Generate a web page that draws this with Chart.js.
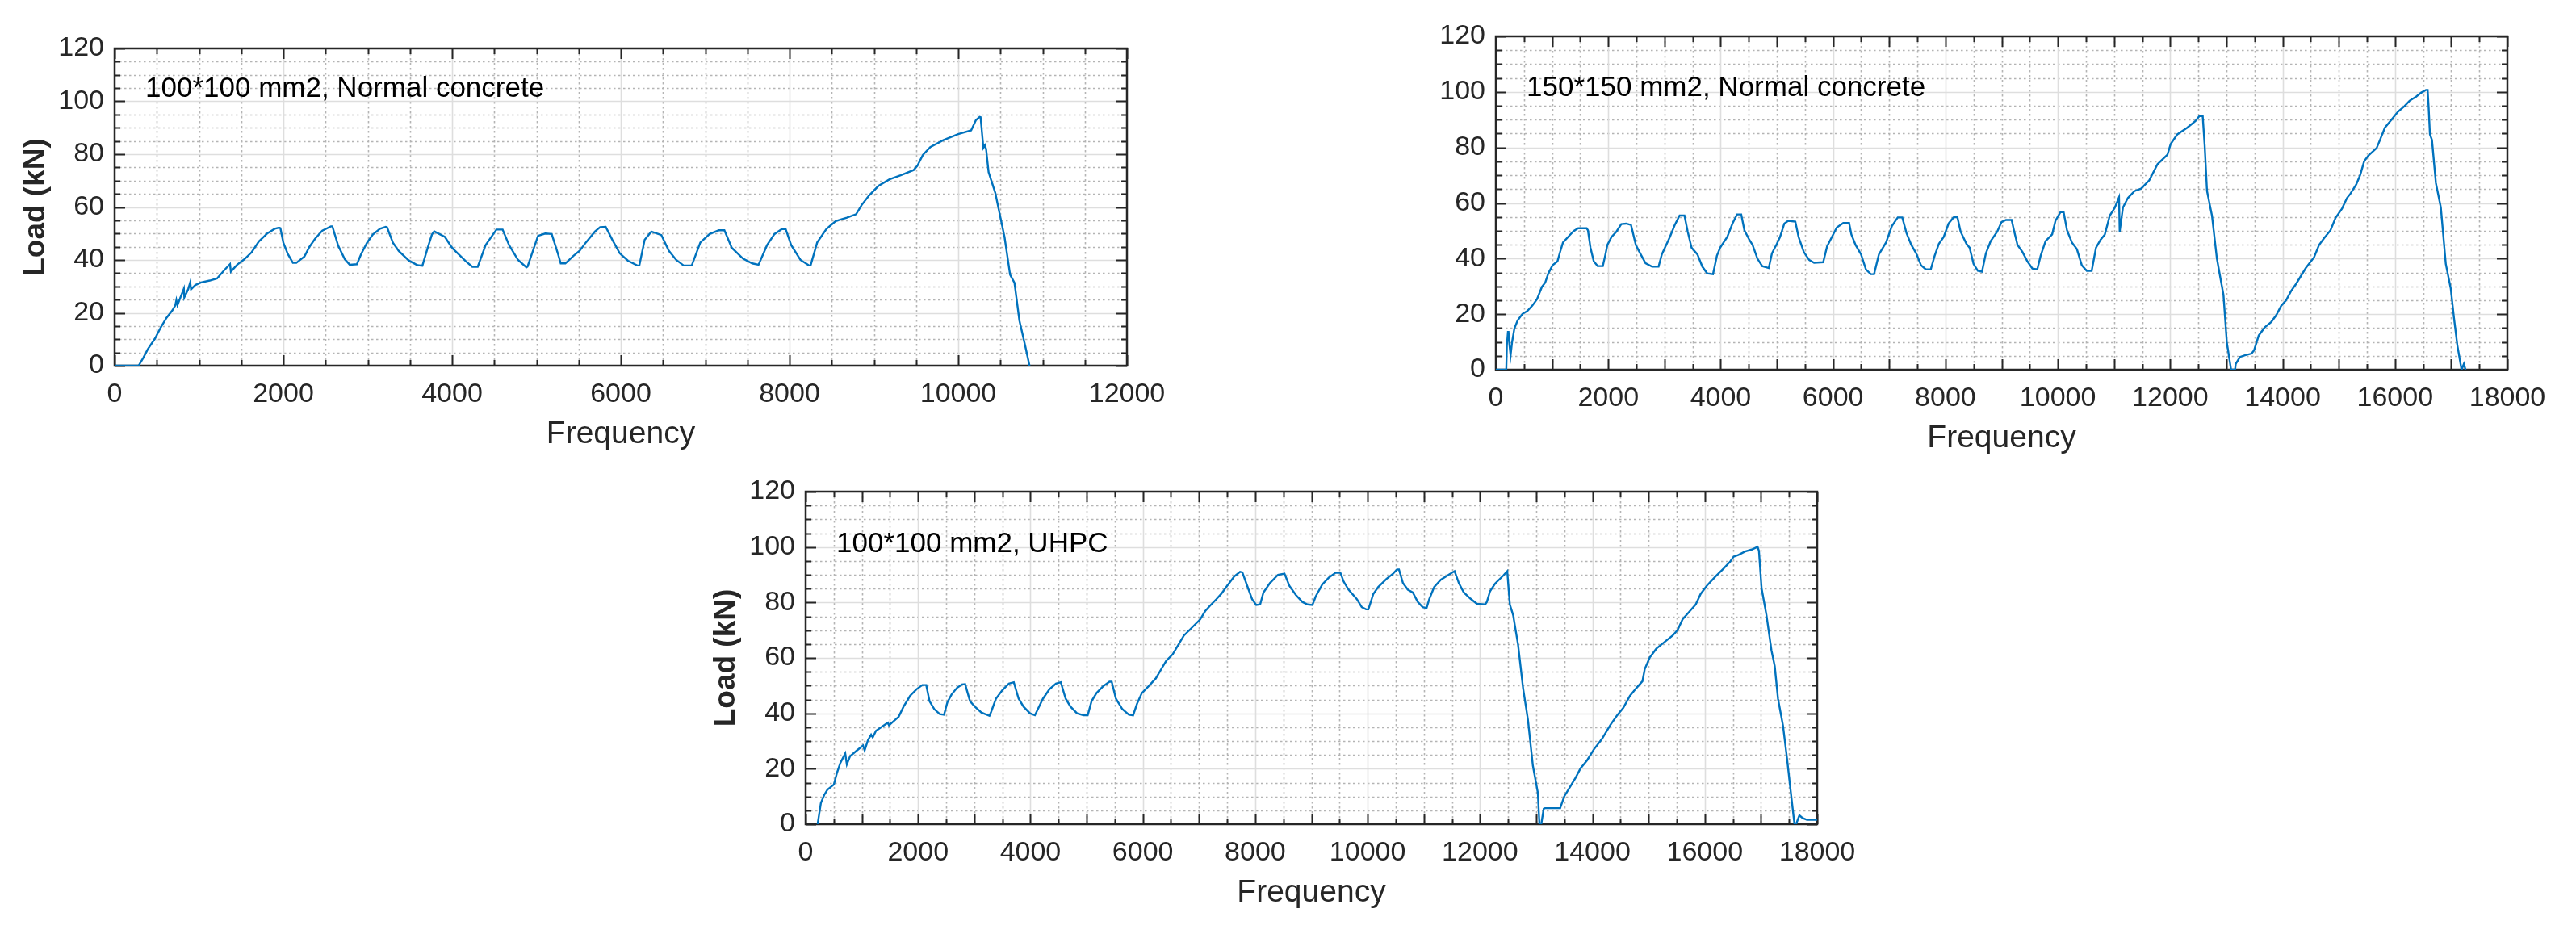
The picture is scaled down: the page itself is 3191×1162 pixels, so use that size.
<!DOCTYPE html>
<html>
<head>
<meta charset="utf-8">
<title>Load vs frequency</title>
<script src="https://cdn.jsdelivr.net/npm/chart.js@4.4.1/dist/chart.umd.min.js"></script>
<style>
  html, body { margin: 0; padding: 0; background: #ffffff; }
  body { width: 3191px; height: 1162px; position: relative; overflow: hidden; }
  canvas { position: absolute; }
</style>
</head>
<body>
<canvas id="chartA" width="1460" height="580" style="left:0px;top:0px"></canvas>
<canvas id="chartB" width="1481" height="585" style="left:1710px;top:0px"></canvas>
<canvas id="chartC" width="1475" height="588" style="left:855px;top:560px"></canvas>
<script>
/* --------------- 100*100 mm2, Normal concrete --------------------- */
const freqA = [0, 284, 342, 393, 479, 547, 615, 684, 718, 732, 745, 786, 821, 826, 872, 896, 906, 957, 1026,
  1128, 1214, 1299, 1368, 1378, 1453, 1539, 1624, 1710, 1812, 1898, 1949, 1965, 2000, 2052, 2113, 2154,
  2250, 2308, 2376, 2462, 2564, 2581, 2650, 2728, 2787, 2872, 2923, 2992, 3060, 3146, 3214, 3230, 3299,
  3368, 3487, 3590, 3648, 3709, 3761, 3788, 3915, 3993, 4035, 4163, 4240, 4304, 4398, 4526, 4599, 4676,
  4782, 4881, 4895, 5019, 5104, 5181, 5258, 5288, 5343, 5437, 5514, 5586, 5693, 5755, 5821, 5900, 5988,
  6085, 6195, 6220, 6283, 6362, 6481, 6569, 6657, 6745, 6841, 6943, 7053, 7162, 7228, 7316, 7448, 7558,
  7633, 7734, 7822, 7910, 7954, 8020, 8130, 8231, 8250, 8328, 8438, 8548, 8680, 8790, 8856, 8944, 9054,
  9186, 9318, 9472, 9516, 9581, 9669, 9823, 9999, 10153, 10210, 10254, 10265, 10298, 10316, 10330, 10360,
  10439, 10549, 10615, 10667, 10725, 10791, 10845];
const loadA = [0, 0, 3.1, 6.2, 10.3, 14.5, 18.1, 20.9, 22.7, 24.8, 22.9, 26.3, 29.1, 25.8, 28.9, 31.5, 28.9, 30.5, 31.5,
  32.2, 33, 36.1, 38.4, 35.6, 38.2, 40.3, 42.9, 47, 50.1, 51.8, 52.2, 52, 46.5, 42.3, 38.9, 38.9,
  41.3, 44.9, 48, 51.1, 52.7, 52.7, 45.4, 40.3, 38.2, 38.4, 42.3, 46.5, 49.6, 51.8, 52.5, 52.3, 46.5,
  43.4, 39.8, 38, 37.8, 44.4, 49.6, 50.8, 48.7, 44.9, 43.5, 39.5, 37.4, 37.4, 45.6, 51.5, 51.5, 45.6,
  40, 37.2, 37.5, 49.1, 50, 49.8, 42, 38.7, 38.7, 41.5, 43.5, 46.6, 50.7, 52.4, 52.5, 47.6, 42.5,
  39.7, 37.9, 37.9, 47.6, 50.7, 49.4, 43.5, 40, 37.9, 37.9, 46.6, 49.8, 51.2, 51.2, 44.6, 40.5, 38.7,
  38.2, 45.6, 49.8, 51.7, 51.7, 45.6, 40, 37.9, 37.9, 46.6, 51.7, 54.7, 56, 57.3, 60.8, 64.4, 68,
  70.5, 72, 74, 75.6, 79.7, 82.7, 85.3, 87.6, 89, 92.9, 94.1, 94, 82.4, 83.4, 82, 73.2,
  65.4, 48.6, 34.4, 31.3, 17.1, 7.9, 0];

/* --------------- 150*150 mm2, Normal concrete --------------------- */
const freqB = [0, 185, 196, 215, 225, 242, 262, 288, 329, 386, 473, 559, 646, 732, 819, 877, 934, 1009, 1096,
  1136, 1194, 1309, 1384, 1465, 1615, 1638, 1684, 1742, 1811, 1903, 1944, 1984, 2059, 2145, 2232, 2318,
  2405, 2491, 2578, 2664, 2780, 2895, 2953, 3097, 3183, 3270, 3356, 3414, 3483, 3587, 3674, 3760, 3864,
  3933, 3991, 4118, 4210, 4291, 4366, 4423, 4510, 4568, 4654, 4740, 4856, 4913, 5000, 5057, 5133, 5202,
  5329, 5386, 5479, 5577, 5663, 5825, 5894, 5980, 6067, 6182, 6286, 6326, 6401, 6499, 6586, 6672, 6730,
  6816, 6943, 7047, 7151, 7232, 7307, 7393, 7480, 7566, 7652, 7739, 7808, 7883, 7970, 8056, 8143, 8212,
  8270, 8374, 8431, 8500, 8576, 8651, 8720, 8806, 8922, 8997, 9078, 9178, 9225, 9283, 9371, 9459, 9547,
  9635, 9694, 9782, 9899, 9958, 10046, 10104, 10163, 10251, 10339, 10427, 10515, 10603, 10679, 10761,
  10837, 10925, 11013, 11089, 11101, 11159, 11247, 11364, 11482, 11628, 11775, 11951, 12009, 12126,
  12302, 12449, 12520, 12578, 12613, 12655, 12743, 12831, 12948, 13007, 13083, 13154, 13166, 13242,
  13330, 13447, 13493, 13575, 13681, 13798, 13886, 13974, 14062, 14150, 14237, 14413, 14560, 14648,
  14736, 14853, 14941, 15058, 15146, 15205, 15311, 15381, 15451, 15528, 15674, 15733, 15820, 15938,
  16054, 16171, 16259, 16376, 16464, 16552, 16581, 16599, 16622, 16658, 16728, 16816, 16904, 16992,
  17050, 17109, 17185, 17226, 17255];
const loadB = [0, 0, 8.9, 13.6, 13.6, 8.9, 5.2, 9.9, 14.8, 17.7, 20.1, 21.1, 23, 25.4, 29.8, 31.3, 34.7, 37.6, 39,
  41.9, 45.8, 48.3, 49.9, 50.9, 50.9, 50.2, 43.9, 39, 37.3, 37.3, 41, 44.9, 47.8, 49.7, 52.4, 52.6,
  52.1, 44.9, 41.5, 38.3, 37.1, 37.1, 41.5, 47.8, 52.1, 55.5, 55.5, 49.7, 43.9, 41.5, 37.1, 34.7, 34.4,
  41, 43.9, 47.8, 52.6, 55.9, 55.9, 50.2, 46.8, 44.9, 40, 37.3, 36.6, 41.9, 45.3, 47.8, 52.6, 53.6,
  53.3, 47.8, 42.4, 39.5, 38.5, 38.7, 44.4, 47.8, 51.2, 52.8, 52.8, 48.7, 44.9, 41.5, 36.1, 34.4, 34.4,
  41.5, 45.8, 51.7, 54.8, 54.8, 49.2, 44.9, 41.9, 37.6, 36.1, 36.1, 41, 45.3, 47.8, 52.6, 54.8, 55,
  49.7, 45.3, 43.9, 38.1, 35.6, 35.3, 41.9, 46.3, 49.7, 53.1, 53.9, 53.9, 49.7, 44.9, 42.4, 39, 36.4,
  36.1, 41, 46.3, 48.7, 53.6, 56.7, 56.7, 50.2, 45.8, 43.4, 37.6, 35.6, 35.6, 43.9, 46.8,
  48.7, 55.5, 58.3, 62.1, 49.7, 58.4, 61.8, 64.3, 65.2, 68.2, 74, 77.4, 81.3, 84.7,
  87.1, 89.5, 91.3, 91.3, 80.8, 64.3, 55.5, 40, 26.9, 9.9, 0, 0, 2.1, 4.6,
  5.2, 5.8, 7, 12.3, 15.2, 17.2, 19.6, 23, 25, 28.3, 30.8, 36.6, 40.5, 44.9,
  47.3, 50.2, 54.6, 58, 61.8, 63.3, 66.7, 70.1, 75, 77.1, 79.8, 82.7, 87.1, 90,
  92.9, 94.9, 96.8, 98.3, 99.7, 100.7, 100.7, 94.4, 84.7, 82.7, 67.2, 58.4, 38.1, 29.3,
  18.6, 8.9, 0, 2.1, 0];

/* --------------- 100*100 mm2, UHPC --------------------- */
const freqC = [213, 271, 329, 387, 502, 560, 617, 704, 733, 790, 906, 1021, 1050, 1108, 1165, 1194, 1252, 1425,
  1465, 1483, 1656, 1742, 1858, 1973, 2077, 2146, 2204, 2290, 2388, 2463, 2521, 2596, 2694, 2781, 2838,
  2925, 3011, 3127, 3271, 3300, 3386, 3502, 3617, 3704, 3790, 3877, 3992, 4079, 4108, 4223, 4338, 4454,
  4540, 4627, 4713, 4829, 4944, 5019, 5088, 5175, 5290, 5406, 5446, 5521, 5636, 5752, 5827, 5896, 5982,
  6098, 6231, 6329, 6415, 6531, 6646, 6732, 6877, 7021, 7107, 7194, 7309, 7396, 7500, 7627, 7731, 7771,
  7858, 7944, 8019, 8088, 8146, 8261, 8406, 8521, 8608, 8723, 8839, 8931, 9018, 9077, 9194, 9311, 9428,
  9516, 9575, 9662, 9809, 9896, 9973, 10014, 10102, 10190, 10336, 10453, 10523, 10558, 10629, 10716,
  10804, 10892, 10980, 11050, 11097, 11185, 11302, 11448, 11548, 11624, 11712, 11829, 11946, 12092,
  12122, 12180, 12268, 12414, 12485, 12531, 12590, 12678, 12766, 12854, 12941, 13029, 13058, 13090,
  13134, 13157, 13427, 13498, 13615, 13702, 13790, 13907, 14024, 14171, 14317, 14434, 14551, 14668,
  14786, 14891, 14932, 15020, 15137, 15283, 15430, 15517, 15605, 15722, 15839, 15927, 16044, 16191,
  16337, 16454, 16513, 16601, 16718, 16835, 16940, 16964, 17011, 17098, 17186, 17245, 17303, 17391,
  17467, 17526, 17596, 17625, 17684, 17742, 17818, 18000];
const loadC = [0, 7.6, 10.5, 12.4, 14.3, 18.7, 22.1, 25.5, 21.6, 24.5, 26.5, 28.4, 26.6, 30.3, 32.3, 31.3, 33.7, 36.1,
  36.6, 35.7, 38.8, 42.4, 46.3, 48.7, 50.2, 50.2, 44.4, 41.5, 39.7, 39.5, 43.9, 46.8, 49.2, 50.4, 50.5,
  44.4, 42.4, 40.3, 39.1, 40.5, 45.3, 48.4, 50.7, 51.2, 45.3, 42.4, 40, 39.3, 40.5, 45.3, 48.7, 50.7,
  51.2, 45.3, 42.4, 40, 39.3, 39.3, 44.4, 47.3, 49.7, 51.4, 51.4, 45.3, 41.5, 39.5, 39.3, 43.4, 47.3,
  49.7, 52.6, 56, 58.9, 61.3, 65.2, 68.1, 71, 73.9, 76.8, 78.8, 81.2, 83.1, 86, 89.4, 91.1, 90.9,
  86, 81.2, 79.1, 79.3, 83.6, 87, 90, 90.4, 86, 82.7, 80.2, 79.3, 79.1, 82.2, 86.5, 89, 90.7,
  90.7, 87.5, 84.6, 81.2, 78.3, 77.5, 77.5, 83.1, 85.6, 88.5, 90.4, 91.9, 91.9, 87, 84.6,
  83.6, 80.2, 78.3, 78, 81.2, 85.6, 88.2, 90.1, 91.3, 87, 83.6, 81.4, 79.5, 79.3,
  80.2, 84.1, 86.8, 89.7, 91.3, 79.3, 75.4, 64.7, 49.2, 37.6, 21.1, 11.4, 0, 0,
  5.6, 5.8, 5.8, 10, 13.9, 16.8, 20.2, 23.1, 26.9, 30.8, 35.7, 39.1, 42, 46.3,
  49.2, 51.6, 56, 60.1, 63.3, 65.7, 68.1, 70.1, 73.9, 76.6, 79.3, 83.1, 86.2, 89.4,
  92.3, 94.8, 96.5, 97.2, 98.4, 99.1, 100.1, 98.6, 85.1, 75.4, 62.8, 57, 45.3, 35.7,
  23.1, 12.4, 0, 0, 3.2, 2.2, 1.6, 1.6];

const yTicks = [0, 20, 40, 60, 80, 100, 120];

const FONT = '"Liberation Sans", Arial, Helvetica, sans-serif';
const INK = '#262626';

/* --------------- Grid, box and inward ticks, MATLAB style --------------------- */
const matlabAxes = {
  id: 'matlabAxes',
  beforeDatasetsDraw(chart, args, o) {
    const { ctx, chartArea: a, scales: { x, y } } = chart;
    const vline = (v) => {
      const px = Math.round(x.getPixelForValue(v)) + 0.5;
      ctx.moveTo(px, a.top);
      ctx.lineTo(px, a.bottom);
    };
    const hline = (v) => {
      const py = Math.round(y.getPixelForValue(v)) + 0.5;
      ctx.moveTo(a.left, py);
      ctx.lineTo(a.right, py);
    };
    ctx.save();
    // minor grid, dotted
    ctx.lineWidth = 1.6;
    ctx.strokeStyle = '#b4b4b4';
    ctx.setLineDash([2.5, 3.5]);
    ctx.beginPath();
    for (let v = o.xMinor; v < x.max; v += o.xMinor) if (v % o.xGrid) vline(v);
    for (let v = o.yMinor; v < y.max; v += o.yMinor) if (v % o.yGrid) hline(v);
    ctx.stroke();
    // major grid, solid
    ctx.setLineDash([]);
    ctx.strokeStyle = '#dedede';
    ctx.beginPath();
    for (let v = o.xGrid; v < x.max; v += o.xGrid) vline(v);
    for (let v = o.yGrid; v < y.max; v += o.yGrid) hline(v);
    ctx.stroke();

    // inward ticks on all four sides
    ctx.strokeStyle = INK;
    ctx.lineWidth = 2;
    ctx.beginPath();
    for (let v = 0; v <= x.max; v += o.xMinor) {
      const px = Math.round(x.getPixelForValue(v)) + 0.5;
      const len = v % o.xTick === 0 ? 13 : 7;
      ctx.moveTo(px, a.bottom); ctx.lineTo(px, a.bottom - len);
      ctx.moveTo(px, a.top); ctx.lineTo(px, a.top + len);
    }
    for (let v = 0; v <= y.max; v += o.yMinor) {
      const py = Math.round(y.getPixelForValue(v)) + 0.5;
      const len = v % o.yGrid === 0 ? 13 : 7;
      ctx.moveTo(a.left, py); ctx.lineTo(a.left + len, py);
      ctx.moveTo(a.right, py); ctx.lineTo(a.right - len, py);
    }
    ctx.stroke();
    // box under the curve, so the blue line stays on top of the axis
    ctx.lineWidth = 2.5;
    ctx.strokeRect(a.left, a.top, a.right - a.left, a.bottom - a.top);
    ctx.restore();
  },
  afterDatasetsDraw(chart, args, o) {
    const { ctx, chartArea: a } = chart;
    ctx.save();
    ctx.fillStyle = '#000000';
    ctx.font = '35px ' + FONT;
    ctx.textBaseline = 'alphabetic';
    ctx.fillText(o.note, a.left + 38, a.top + o.noteDy);
    ctx.restore();
  }
};

const makeChart = (id, freq, load, cfg) => new Chart(document.getElementById(id), {
  type: 'line',
  data: {
    datasets: [{
      data: freq.map((f, i) => ({ x: f, y: load[i] })),
      borderColor: '#0072BD',
      borderWidth: 2.4,
      pointRadius: 0,
      tension: 0,
      fill: false,
    }],
  },
  options: {
    responsive: false,
    animation: false,
    events: [],
    layout: { padding: { top: cfg.padTop, right: cfg.padRight, left: 0, bottom: 0 } },
    plugins: {
      legend: { display: false },
      tooltip: { enabled: false },
      matlabAxes: {
        xMinor: 500, xGrid: 2000, xTick: cfg.xTick,
        yMinor: 5, yGrid: 20,
        note: cfg.note, noteDy: cfg.noteDy,
      },
    },
    scales: {
      x: {
        type: 'linear',
        min: 0,
        max: cfg.xMax,
        afterFit: (s) => { s.height = 127; },
        grid: { display: false, drawTicks: false },
        border: { display: false },
        ticks: {
          stepSize: 2000, autoSkip: false, maxRotation: 0, padding: 15,
          color: INK, font: { family: FONT, size: 34 },
          callback: (v) => String(v),
        },
        title: {
          display: true, text: 'Frequency', color: INK,
          font: { family: FONT, size: 39 },
          padding: { top: 0, bottom: 18 },
        },
      },
      y: {
        type: 'linear',
        min: 0,
        max: 120,
        afterFit: (s) => { s.width = cfg.yWidth; },
        afterBuildTicks: (s) => { s.ticks = yTicks.map((v) => ({ value: v })); },
        grid: { display: false, drawTicks: false },
        border: { display: false },
        ticks: {
          padding: 13, color: INK, font: { family: FONT, size: 34 },
          callback: (v) => String(v),
        },
        title: {
          display: cfg.yTitle, text: 'Load (kN)', color: INK,
          font: { family: FONT, size: 37, weight: 'bold' },
          padding: { top: 23, bottom: 0 },
        },
      },
    },
  },
  plugins: [matlabAxes],
});

makeChart('chartA', freqA, loadA, {
  xMax: 12000, xTick: 2000, padTop: 60, padRight: 64, yWidth: 142, yTitle: true,
  note: '100*100 mm2, Normal concrete', noteDy: 59.5,
});
makeChart('chartB', freqB, loadB, {
  xMax: 18000, xTick: 1000, padTop: 45, padRight: 85, yWidth: 143, yTitle: false,
  note: '150*150 mm2, Normal concrete', noteDy: 74,
});
makeChart('chartC', freqC, loadC, {
  xMax: 18000, xTick: 1000, padTop: 49, padRight: 79, yWidth: 143, yTitle: true,
  note: '100*100 mm2, UHPC', noteDy: 75,
});
</script>
</body>
</html>
